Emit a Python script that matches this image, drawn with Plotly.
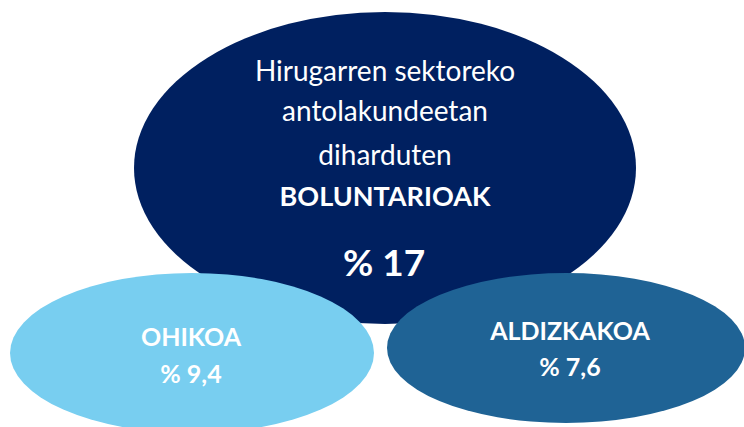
import plotly.graph_objects as go

# Data
total_label = ["Hirugarren sektoreko", "antolakundeetan", "diharduten"]
total_title = "BOLUNTARIOAK"
total_value = 17
categories = ["OHIKOA", "ALDIZKAKOA"]
values = [9.4, 7.6]

def fmt(v):
    s = ("%g" % v).replace(".", ",")
    return "% " + s

W, H = 744, 427
NAVY = "#002060"
LIGHT = "#78CEF0"
MID = "#1F6395"
FONT = "Lato"

fig = go.Figure()

# ellipses (pixel-space data coordinates)
big = dict(cx=385, cy=168, rx=251, ry=156)
small = [dict(cx=192, cy=353, rx=182, ry=80), dict(cx=566, cy=348, rx=179, ry=75)]
small_colors = [LIGHT, MID]

shapes = [dict(type="circle", xref="x", yref="y", layer="below",
               x0=big["cx"] - big["rx"], x1=big["cx"] + big["rx"],
               y0=big["cy"] - big["ry"], y1=big["cy"] + big["ry"],
               fillcolor=NAVY, line=dict(width=0))]
for e, c in zip(small, small_colors):
    shapes.append(dict(type="circle", xref="x", yref="y", layer="below",
                       x0=e["cx"] - e["rx"], x1=e["cx"] + e["rx"],
                       y0=e["cy"] - e["ry"], y1=e["cy"] + e["ry"],
                       fillcolor=c, line=dict(width=0)))

# big ellipse texts
line_y = [74, 114, 158]
fig.add_trace(go.Scatter(x=[385] * 3, y=line_y, mode="text", text=total_label,
                         textposition="middle center",
                         textfont=dict(family=FONT, size=28, color="white"),
                         hoverinfo="skip", showlegend=False))
fig.add_trace(go.Scatter(x=[385], y=[199], mode="text", text=["<b>" + total_title + "</b>"],
                         textposition="middle center",
                         textfont=dict(family=FONT, size=27, color="white"),
                         hoverinfo="skip", showlegend=False))
fig.add_trace(go.Scatter(x=[384], y=[267], mode="text", text=["<b>" + fmt(total_value) + "</b>"],
                         textposition="middle center",
                         textfont=dict(family=FONT, size=37, color="white"),
                         hoverinfo="skip", showlegend=False))

# small ellipse texts
cat_pos = [(191, 340, 377), (570, 334, 370)]
for cat, v, (x, y1, y2) in zip(categories, values, cat_pos):
    fig.add_trace(go.Scatter(x=[x, x], y=[y1, y2], mode="text",
                             text=["<b>" + cat + "</b>", "<b>" + fmt(v) + "</b>"],
                             textposition="middle center",
                             textfont=dict(family=FONT, size=25, color="white"),
                             hoverinfo="skip", showlegend=False))

fig.update_layout(
    width=W, height=H,
    margin=dict(l=0, r=0, t=0, b=0),
    paper_bgcolor="white", plot_bgcolor="white",
    shapes=shapes,
    xaxis=dict(range=[0, W], visible=False, fixedrange=True),
    yaxis=dict(range=[H, 0], visible=False, fixedrange=True),
)

fig.write_html("out.html", config={"displayModeBar": False},
               post_script="document.body.style.margin='0';document.body.style.overflow='hidden';")
